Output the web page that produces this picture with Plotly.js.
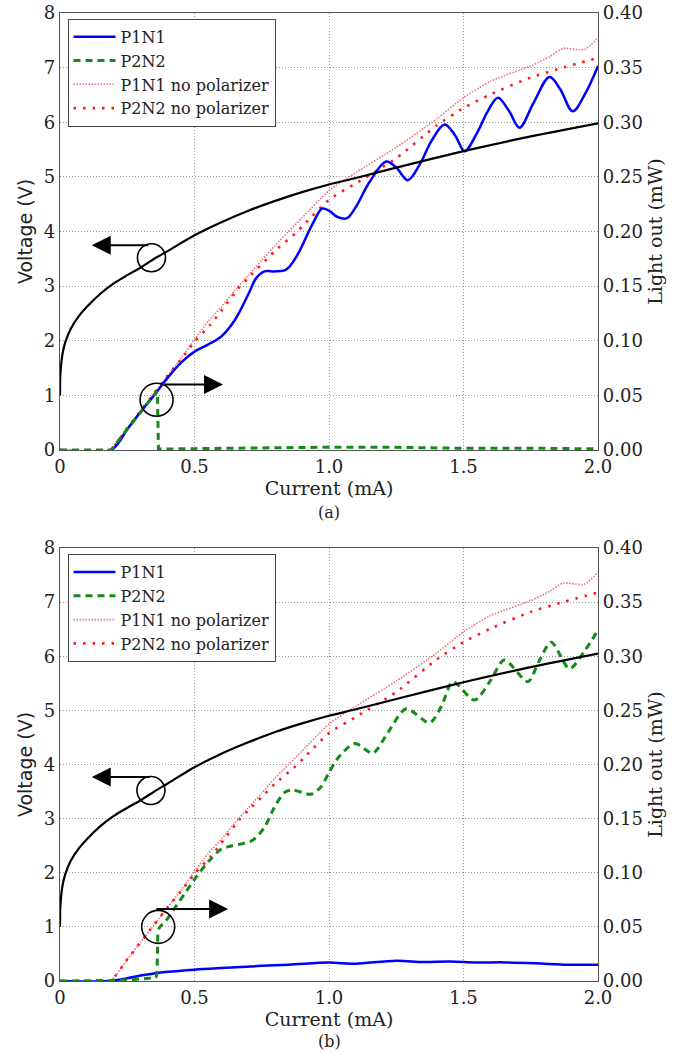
<!DOCTYPE html>
<html>
<head>
<meta charset="utf-8">
<script src="https://cdn.plot.ly/plotly-3.0.1.min.js"></script>
<style>html,body{margin:0;padding:0;background:#fff;}#chart{width:685px;height:1053px;}</style>
</head>
<body>
<div id="chart"></div>
<script>
// ---------- data ----------
// Voltage (V) vs current (mA)
var currentV_a = [0, 0.001, 0.005, 0.01, 0.02, 0.04, 0.07, 0.1, 0.15, 0.2, 0.25, 0.3, 0.35, 0.4, 0.5, 0.6, 0.7, 0.8, 0.9, 1.0, 1.1, 1.25, 1.5, 1.75, 2.0];
var voltage_a  = [1.0, 1.35, 1.6, 1.78, 1.98, 2.22, 2.45, 2.62, 2.86, 3.05, 3.2, 3.34, 3.5, 3.64, 3.93, 4.17, 4.38, 4.56, 4.72, 4.86, 4.98, 5.17, 5.47, 5.74, 5.98];
var currentV_b = [0, 0.001, 0.005, 0.01, 0.02, 0.04, 0.07, 0.1, 0.15, 0.2, 0.25, 0.3, 0.35, 0.4, 0.5, 0.6, 0.7, 0.8, 0.9, 1.0, 1.1, 1.25, 1.5, 1.75, 2.0];
var voltage_b  = [1.0, 1.35, 1.6, 1.78, 1.98, 2.22, 2.45, 2.62, 2.86, 3.05, 3.2, 3.34, 3.5, 3.65, 3.95, 4.2, 4.41, 4.6, 4.76, 4.9, 5.02, 5.21, 5.52, 5.8, 6.05];

// (a) P1N1 light out (mW)
var cur_p1n1_a = [0, 0.19, 0.25, 0.3, 0.35, 0.4, 0.45, 0.5, 0.55, 0.6, 0.65, 0.7, 0.73, 0.76, 0.8, 0.84, 0.88, 0.94, 0.975, 1.0, 1.03, 1.065, 1.1, 1.15, 1.213, 1.25, 1.293, 1.34, 1.38, 1.43, 1.47, 1.504, 1.55, 1.59, 1.628, 1.67, 1.708, 1.76, 1.82, 1.86, 1.906, 1.95, 2.0];
var p1n1_a     = [0, 0, 0.019, 0.035, 0.050, 0.066, 0.080, 0.090, 0.0965, 0.104, 0.119, 0.1425, 0.1575, 0.1635, 0.1635, 0.165, 0.1775, 0.2075, 0.221, 0.219, 0.2135, 0.212, 0.2225, 0.245, 0.264, 0.2585, 0.247, 0.2625, 0.2825, 0.298, 0.2875, 0.2735, 0.29, 0.31, 0.3225, 0.31, 0.295, 0.3175, 0.3415, 0.33, 0.31, 0.325, 0.3515];
// (a) P2N2 light out (mW)
var cur_p2n2_a = [0, 0.19, 0.25, 0.3, 0.35, 0.362, 0.366, 0.38, 0.5, 0.75, 1.0, 1.25, 1.5, 1.75, 2.0];
var p2n2_a     = [0, 0, 0.019, 0.035, 0.050, 0.054, 0.001, 0.0008, 0.0012, 0.0018, 0.0025, 0.0024, 0.0015, 0.0016, 0.001];

// (b) P1N1 light out (mW)
var cur_p1n1_b = [0, 0.18, 0.25, 0.3, 0.35, 0.4, 0.5, 0.6, 0.75, 0.85, 1.0, 1.05, 1.1, 1.25, 1.35, 1.45, 1.55, 1.65, 1.8, 1.9, 2.0];
var p1n1_b     = [0, 0, 0.0025, 0.005, 0.007, 0.0085, 0.0105, 0.012, 0.014, 0.015, 0.017, 0.0165, 0.016, 0.0187, 0.0175, 0.018, 0.017, 0.0172, 0.016, 0.015, 0.015];
// (b) P2N2 light out (mW)
var cur_p2n2_b = [0, 0.25, 0.33, 0.355, 0.362, 0.368, 0.395, 0.42, 0.463, 0.506, 0.556, 0.6, 0.642, 0.716, 0.76, 0.797, 0.834, 0.864, 0.932, 0.969, 1.0, 1.03, 1.096, 1.163, 1.22, 1.287, 1.374, 1.42, 1.46, 1.541, 1.6, 1.652, 1.739, 1.78, 1.826, 1.894, 1.95, 2.0];
var p2n2_b     = [0, 0.001, 0.0025, 0.003, 0.025, 0.0485, 0.056, 0.065, 0.0805, 0.096, 0.1115, 0.122, 0.125, 0.13, 0.142, 0.1605, 0.174, 0.1765, 0.1725, 0.179, 0.1925, 0.205, 0.2195, 0.2105, 0.23, 0.2515, 0.2385, 0.255, 0.2765, 0.2595, 0.2775, 0.2965, 0.2765, 0.295, 0.313, 0.2885, 0.305, 0.324];

// No polarizer (same measurement in both panels)
var cur_p1n1_nopol = [0, 0.185, 0.25, 0.3, 0.35, 0.4, 0.45, 0.5, 0.55, 0.6, 0.65, 0.7, 0.75, 0.8, 0.85, 0.9, 1.0, 1.1, 1.25, 1.4, 1.5, 1.6, 1.75, 1.82, 1.87, 1.95, 2.0];
var p1n1_nopol     = [0, 0, 0.02, 0.036, 0.052, 0.068, 0.084, 0.101, 0.1175, 0.131, 0.146, 0.16, 0.1735, 0.1875, 0.2, 0.2125, 0.2375, 0.254, 0.277, 0.303, 0.3225, 0.3375, 0.3515, 0.36, 0.3675, 0.3665, 0.3775];
var cur_p2n2_nopol = [0, 0.185, 0.25, 0.3, 0.35, 0.4, 0.45, 0.5, 0.56, 0.6, 0.667, 0.7, 0.77, 0.8, 0.876, 0.91, 1.0, 1.1, 1.25, 1.4, 1.5, 1.6, 1.75, 1.87, 2.0];
var p2n2_nopol     = [0, 0, 0.02, 0.036, 0.052, 0.068, 0.083, 0.099, 0.115, 0.1275, 0.149, 0.1575, 0.175, 0.1825, 0.1985, 0.207, 0.229, 0.244, 0.267, 0.297, 0.313, 0.3255, 0.341, 0.35, 0.359];

// tick labels
var xTickVals = [0, 0.5, 1.0, 1.5, 2.0];
var xTickText = ['0', '0.5', '1.0', '1.5', '2.0'];
var vTickVals = [0, 1, 2, 3, 4, 5, 6, 7, 8];
var vTickText = ['0', '1', '2', '3', '4', '5', '6', '7', '8'];
var lTickVals = [0, 0.05, 0.10, 0.15, 0.20, 0.25, 0.30, 0.35, 0.40];
var lTickText = ['0.00', '0.05', '0.10', '0.15', '0.20', '0.25', '0.30', '0.35', '0.40'];
var seriesNames = ['P1N1', 'P2N2', 'P1N1 no polarizer', 'P2N2 no polarizer'];

// ---------- styles ----------
var SERIF = 'DejaVu Serif';
var SANS = 'DejaVu Sans';
var cBlue = '#0000ff', cGreen = '#168a16', cPink = '#ef6f7c', cRed = '#ff1a1a';

function lightTraces(xa, ya, leg, p1x, p1y, p2x, p2y, p2shape) {
  return [
    {x: cur_p1n1_nopol, y: p1n1_nopol, name: seriesNames[2], xaxis: xa, yaxis: ya, legend: leg, mode: 'lines',
     line: {color: cPink, width: 1.6, dash: '1.5px,1.5px', shape: 'spline', smoothing: 0.6}},
    {x: cur_p2n2_nopol, y: p2n2_nopol, name: seriesNames[3], xaxis: xa, yaxis: ya, legend: leg, mode: 'lines',
     line: {color: cRed, width: 2.6, dash: '2.5px,7px', shape: 'spline', smoothing: 0.6}},
    {x: p1x, y: p1y, name: seriesNames[0], xaxis: xa, yaxis: ya, legend: leg, mode: 'lines',
     line: {color: cBlue, width: 2.5, shape: 'spline', smoothing: 1}},
    {x: p2x, y: p2y, name: seriesNames[1], xaxis: xa, yaxis: ya, legend: leg, mode: 'lines',
     line: {color: cGreen, width: 3, dash: '7px,5px', shape: p2shape, smoothing: 0.8}}
  ];
}

var data = [];
data = data.concat(lightTraces('x', 'y', 'legend', cur_p1n1_a, p1n1_a, cur_p2n2_a, p2n2_a, 'linear'));
data.push({x: currentV_a, y: voltage_a, xaxis: 'x', yaxis: 'y2', mode: 'lines', showlegend: false,
           line: {color: '#000', width: 2.2, shape: 'spline', smoothing: 0.8}});
data = data.concat(lightTraces('x2', 'y3', 'legend2', cur_p1n1_b, p1n1_b, cur_p2n2_b, p2n2_b, 'spline'));
data.push({x: currentV_b, y: voltage_b, xaxis: 'x2', yaxis: 'y4', mode: 'lines', showlegend: false,
           line: {color: '#000', width: 2.2, shape: 'spline', smoothing: 0.8}});
data.forEach(function(t){
  var i = seriesNames.indexOf(t.name);
  if (i >= 0) t.legendrank = i + 1;
});

var frameColor = '#555555';
var gridColor = '#9a9a9a';
var gridDash = '1px,2px';
function xAxis(anchor, title) {
  return {anchor: anchor, domain: [0, 1], range: [0, 2], tickvals: xTickVals, ticktext: xTickText,
    showgrid: true, gridcolor: gridColor, griddash: gridDash, gridwidth: 1,
    showline: true, linecolor: frameColor, linewidth: 1.2, mirror: true, ticks: '', zeroline: false,
    tickfont: {family: SERIF, size: 18, color: '#222'},
    title: {text: title, font: {family: SERIF, size: 19, color: '#222'}, standoff: 1}};
}
function lightAxis(anchor, dom) {
  return {anchor: anchor, domain: dom, side: 'right', range: [0, 0.4], tickvals: lTickVals, ticktext: lTickText,
    showgrid: true, gridcolor: gridColor, griddash: gridDash, gridwidth: 1, zeroline: false,
    showline: true, linecolor: frameColor, linewidth: 1.2, ticks: '',
    tickfont: {family: SERIF, size: 18, color: '#222'},
    title: {text: 'Light out (mW)', font: {family: SERIF, size: 19, color: '#222'}, standoff: 6}};
}
function voltAxis(anchor, over) {
  return {anchor: anchor, overlaying: over, side: 'left', range: [0, 8], tickvals: vTickVals, ticktext: vTickText,
    showgrid: false, zeroline: false, showline: true, linecolor: frameColor, linewidth: 1.2, ticks: '',
    tickfont: {family: SERIF, size: 18, color: '#222'},
    title: {text: 'Voltage (V)', font: {family: SANS, size: 19, color: '#222'}, standoff: 6}};
}

var domA = [0.5486, 1.0];
var domB = [0.0, 0.4473];

function circ(xr, yr, cx, cy, r) {
  return {type: 'circle', xref: xr, yref: yr, xsizemode: 'pixel', ysizemode: 'pixel',
    xanchor: cx, yanchor: cy, x0: -r, x1: r, y0: -r, y1: r, line: {color: '#000', width: 1.6}};
}
function arrow(xr, yr, tipx, tipy, tailx, taily) {
  return {xref: xr, yref: yr, axref: xr, ayref: yr, x: tipx, y: tipy, ax: tailx, ay: taily,
    text: '', showarrow: true, arrowhead: 2, arrowsize: 1.9, arrowwidth: 2, arrowcolor: '#000', standoff: 0, startstandoff: 0};
}

var legendCommon = {bgcolor: '#fff', bordercolor: '#444', borderwidth: 1, font: {family: SERIF, size: 16, color: '#222'},
  xanchor: 'left', yanchor: 'top', tracegroupgap: 0, itemwidth: 42};

var layout = {
  width: 685, height: 1053,
  margin: {l: 60, r: 87, t: 13, b: 72},
  paper_bgcolor: '#fff', plot_bgcolor: '#fff',
  showlegend: true,
  xaxis: xAxis('y', 'Current (mA)'),
  yaxis: lightAxis('x', domA),
  yaxis2: voltAxis('x', 'y'),
  xaxis2: xAxis('y3', 'Current (mA)'),
  yaxis3: lightAxis('x2', domB),
  yaxis4: voltAxis('x2', 'y3'),
  legend: Object.assign({x: 0.014, y: 0.994}, legendCommon),
  legend2: Object.assign({x: 0.014, y: 0.441}, legendCommon),
  shapes: [
    circ('x', 'y2', 0.34, 3.52, 14),
    circ('x', 'y2', 0.359, 0.92, 16.5),
    circ('x2', 'y4', 0.338, 3.52, 14),
    circ('x2', 'y4', 0.365, 1.0, 16.5)
  ],
  annotations: [
    arrow('x', 'y2', 0.118, 3.75, 0.334, 3.75),
    arrow('x', 'y2', 0.606, 1.2, 0.384, 1.2),
    arrow('x2', 'y4', 0.118, 3.77, 0.339, 3.77),
    arrow('x2', 'y4', 0.625, 1.33, 0.353, 1.33),
    {xref: 'paper', yref: 'paper', x: 0.5, y: 0.4835, xanchor: 'center', yanchor: 'middle', text: '(a)', showarrow: false,
     font: {family: SERIF, size: 16, color: '#222'}},
    {xref: 'paper', yref: 'paper', x: 0.5, y: -0.063, xanchor: 'center', yanchor: 'middle', text: '(b)', showarrow: false,
     font: {family: SERIF, size: 16, color: '#222'}}
  ]
};

Plotly.newPlot('chart', data, layout, {staticPlot: true, displayModeBar: false});
</script>
</body>
</html>
